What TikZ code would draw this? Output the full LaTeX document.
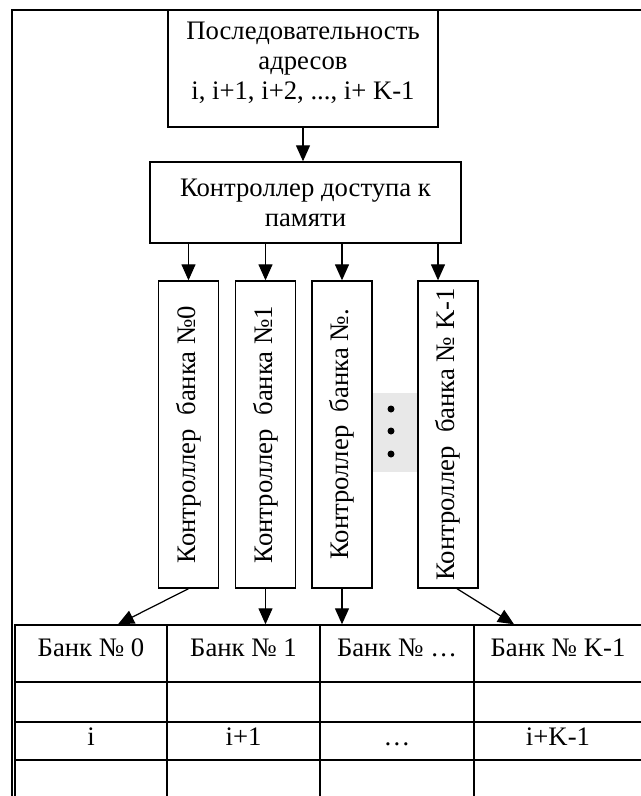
\documentclass[tikz,border=0pt]{standalone}
\usepackage{fontspec}
\setmainfont{Liberation Serif}
\usepackage{graphicx}
\usetikzlibrary{arrows.meta}

\tikzset{
  blk/.style={draw,line width=0.8pt,align=center,inner sep=0pt,font=\fontsize{15.2}{17.2}\selectfont},
  bankctl/.style={blk,minimum width=1.2cm,minimum height=6.14cm},
  cell/.style={draw,line width=0.8pt,inner sep=0pt,text height=0.36cm,text depth=0.2cm,font=\fontsize{15.2}{16.6}\selectfont},
  headcell/.style={cell,text depth=0.24cm,minimum height=1.14cm},
  arr/.style={-{Triangle[width=0.28cm,length=0.32cm]},line width=0.7pt},
}

\begin{document}
\begin{tikzpicture}[x=0.02cm,y=-0.02cm]
\useasboundingbox (0,0) rectangle (641,796);
% outer frame
\draw[line width=1.2pt] (645,10) -- (12,10) -- (12,800);

% address sequence and access controller
\node[blk,minimum width=5.4cm,minimum height=2.34cm,text depth=0.3cm] (seq) at (303,68.5) {Последовательность\\адресов\\i, i+1, i+2, ..., i+ K-1};
\node[blk,minimum width=6.22cm,minimum height=1.62cm] (ctrl) at (305.5,202.5) {Контроллер доступа к\\памяти};
\draw[arr] (seq.south) -- (seq.south |- ctrl.north);

% bank controllers
\node[bankctl] (kb0) at (188.5,434.5) {\rotatebox{90}{Контроллер\ \ банка №0}};
\node[bankctl] (kb1) at (265.5,434.5) {\rotatebox{90}{Контроллер\ \ банка №1}};
\node[bankctl] (kb2) at (342,434.5) {\rotatebox{90}{Контроллер\ \ банка №.}};
\node[bankctl] (kb3) at (448,434.5) {\rotatebox{90}{Контроллер\ \ банка № K-1}};
\draw[arr] (kb0.north |- ctrl.south) -- (kb0.north);
\draw[arr] (kb1.north |- ctrl.south) -- (kb1.north);
\draw[arr] (kb2.north |- ctrl.south) -- (kb2.north);
\draw[arr] ([xshift=-0.2cm]kb3.north |- ctrl.south) -- ([xshift=-0.2cm]kb3.north);

% gap with dots
\fill[black!9] (373,393) rectangle (417,472);
\foreach \y in {409,431,454}
  \fill (391,\y) circle (0.07cm);

% memory banks
\node[headcell,minimum width=3.04cm] (h0) at (91,653.5) {Банк № 0};
\node[headcell,minimum width=3.06cm] (h1) at (243.5,653.5) {Банк № 1};
\node[headcell,minimum width=3.08cm] (h2) at (397,653.5) {Банк № …};
\node[headcell,minimum width=3.36cm] (h3) at (558,653.5) {Банк № K-1};
\node[cell,minimum width=3.04cm,minimum height=0.8cm] (e0) at (91,702) {};
\node[cell,minimum width=3.06cm,minimum height=0.8cm] (e1) at (243.5,702) {};
\node[cell,minimum width=3.08cm,minimum height=0.8cm] (e2) at (397,702) {};
\node[cell,minimum width=3.36cm,minimum height=0.8cm] (e3) at (558,702) {};
\node[cell,minimum width=3.04cm,minimum height=0.76cm] (a0) at (91,741) {i};
\node[cell,minimum width=3.06cm,minimum height=0.76cm] (a1) at (243.5,741) {i+1};
\node[cell,minimum width=3.08cm,minimum height=0.76cm] (a2) at (397,741) {…};
\node[cell,minimum width=3.36cm,minimum height=0.76cm] (a3) at (558,741) {i+K-1};
\node[cell,minimum width=3.04cm,minimum height=0.8cm] (f0) at (91,780) {};
\node[cell,minimum width=3.06cm,minimum height=0.8cm] (f1) at (243.5,780) {};
\node[cell,minimum width=3.08cm,minimum height=0.8cm] (f2) at (397,780) {};
\node[cell,minimum width=3.36cm,minimum height=0.8cm] (f3) at (558,780) {};

\draw[arr] (kb0.south) -- ([xshift=0.54cm]h0.north);
\draw[arr] (kb1.south) -- (kb1.south |- h1.north);
\draw[arr] (kb2.south) -- (kb2.south |- h2.north);
\draw[arr] ([xshift=0.18cm]kb3.south) -- ([xshift=-0.88cm]h3.north);
\end{tikzpicture}
\end{document}
